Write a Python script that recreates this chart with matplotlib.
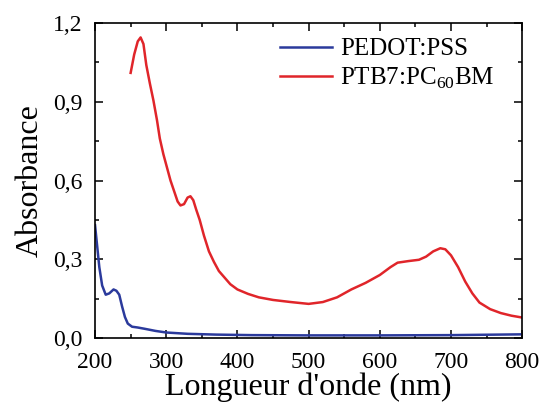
import matplotlib
matplotlib.use('Agg')
import matplotlib.pyplot as plt
from matplotlib.ticker import MultipleLocator, FuncFormatter

plt.rcParams['font.family'] = ['Liberation Serif', 'DejaVu Serif']
plt.rcParams['mathtext.fontset'] = 'custom'
plt.rcParams['mathtext.rm'] = 'Liberation Serif'

# PEDOT:PSS spectrum
wl_pedot = [200, 203, 206, 210, 215, 220, 226, 230, 234, 238, 242, 246, 252, 260,
            270, 285, 300, 330, 370, 420, 500, 600, 700, 800]
abs_pedot = [0.43, 0.35, 0.27, 0.20, 0.165, 0.17, 0.185, 0.18, 0.165, 0.12, 0.08, 0.055,
             0.043, 0.040, 0.035, 0.027, 0.021, 0.016, 0.013, 0.011, 0.010, 0.010, 0.011, 0.014]

# PTB7:PC60BM spectrum
wl_ptb7 = [250, 255, 260, 264, 268, 272, 277, 282, 287, 291, 296, 301, 306, 311, 316,
           320, 325, 330, 334, 338, 342, 347, 353, 360, 367, 374, 382, 390, 400, 415,
           430, 450, 475, 500, 520, 540, 560, 580, 600, 615, 625, 640, 655, 665, 675,
           685, 692, 700, 710, 720, 730, 740, 755, 770, 785, 800]
abs_ptb7 = [1.01, 1.08, 1.13, 1.145, 1.12, 1.04, 0.97, 0.905, 0.83, 0.76, 0.70, 0.65, 0.60,
            0.56, 0.52, 0.505, 0.51, 0.535, 0.54, 0.525, 0.49, 0.45, 0.39, 0.33, 0.29,
            0.255, 0.23, 0.205, 0.185, 0.168, 0.155, 0.145, 0.137, 0.13, 0.137, 0.155,
            0.185, 0.21, 0.24, 0.27, 0.287, 0.293, 0.298, 0.31, 0.33, 0.342, 0.338, 0.315,
            0.27, 0.215, 0.17, 0.135, 0.11, 0.095, 0.085, 0.078]

fig = plt.figure(figsize=(5.4, 4.07), dpi=100)
ax = fig.add_axes([0.176, 0.1695, 0.791, 0.774])

ax.plot(wl_pedot, abs_pedot, color='#2b3a9c', lw=1.8, label='PEDOT:PSS')
ax.plot(wl_ptb7, abs_ptb7, color='#e0252a', lw=1.8, label=r'PTB7:PC$_{60}$BM')

ax.set_xlim(200, 800)
ax.set_ylim(0, 1.2)
ax.xaxis.set_major_locator(MultipleLocator(100))
ax.xaxis.set_minor_locator(MultipleLocator(50))
ax.yaxis.set_major_locator(MultipleLocator(0.3))
ax.yaxis.set_minor_locator(MultipleLocator(0.15))
ax.yaxis.set_major_formatter(FuncFormatter(lambda v, p: f'{v:.1f}'.replace('.', ',')))

ax.tick_params(which='both', direction='in', top=True, right=True, labelsize=17, width=1.1)
ax.tick_params(which='major', length=6)
ax.tick_params(which='minor', length=3)
ax.tick_params(axis='x', which='major', pad=10)
ax.tick_params(axis='y', which='major', pad=9)
for s in ax.spines.values():
    s.set_linewidth(1.2)

ax.set_xlabel("Longueur d'onde (nm)", fontsize=23, labelpad=0)
ax.set_ylabel('Absorbance', fontsize=23, labelpad=6)

ax.legend(loc='upper right', frameon=False, fontsize=18, handlelength=2.1,
          handletextpad=0.3, labelspacing=0.2, borderaxespad=0.2,
          bbox_to_anchor=(0.97, 1.0))

plt.savefig('out.png', dpi=100)
